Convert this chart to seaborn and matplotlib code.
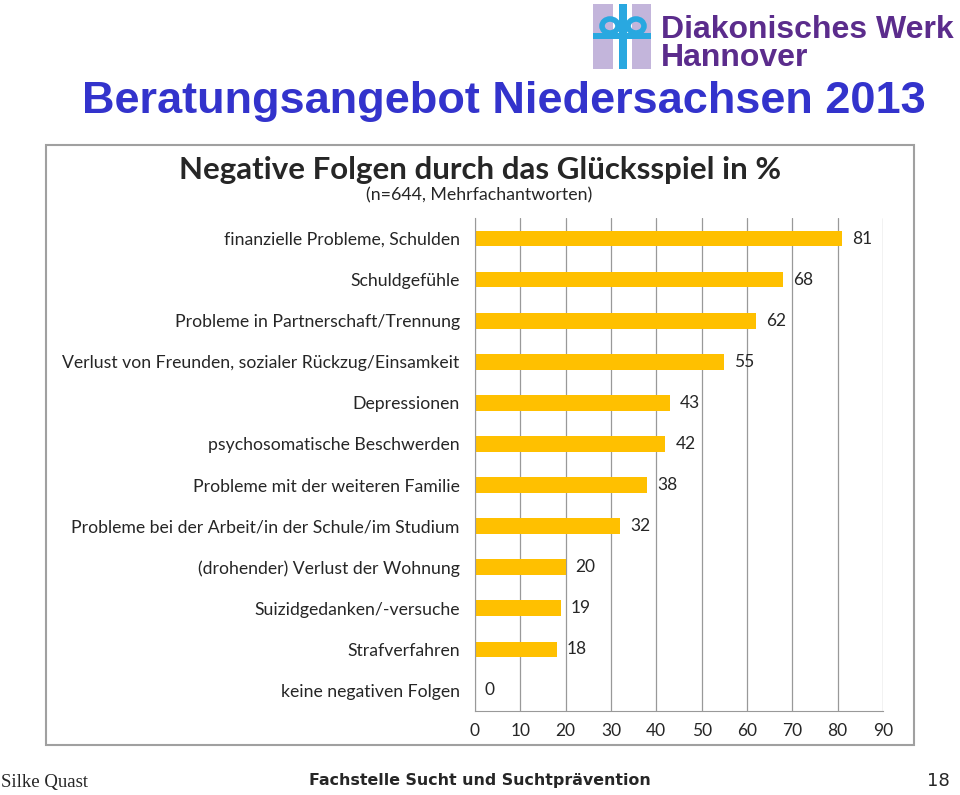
import matplotlib
matplotlib.use("Agg")
import matplotlib.pyplot as plt
import matplotlib.patches as mpatches
import seaborn as sns
import pandas as pd

# Daten
kategorien = [
    "finanzielle Probleme, Schulden",
    "Schuldgefühle",
    "Probleme in Partnerschaft/Trennung",
    "Verlust von Freunden, sozialer Rückzug/Einsamkeit",
    "Depressionen",
    "psychosomatische Beschwerden",
    "Probleme mit der weiteren Familie",
    "Probleme bei der Arbeit/in der Schule/im Studium",
    "(drohender) Verlust der Wohnung",
    "Suizidgedanken/-versuche",
    "Strafverfahren",
    "keine negativen Folgen",
]
prozent = [81, 68, 62, 55, 43, 42, 38, 32, 20, 19, 18, 0]
x_ticks = [0, 10, 20, 30, 40, 50, 60, 70, 80, 90]

df = pd.DataFrame({"Kategorie": kategorien, "Prozent": prozent})

sns.set_style("white")
plt.rcParams["font.family"] = ["Lato", "DejaVu Sans"]

W, H = 960, 795
fig = plt.figure(figsize=(9.6, 7.95), dpi=100)


def rect(x0, y0, x1, y1, **kw):
    # Rechteck in Pixelkoordinaten (y von oben)
    fig.patches.append(mpatches.Rectangle((x0 / W, 1 - y1 / H), (x1 - x0) / W, (y1 - y0) / H,
                                          transform=fig.transFigure, **kw))


# Rahmen um das Diagramm
rect(46, 145, 914, 745, fill=False, edgecolor="#a0a0a0", linewidth=1.5)

ax = fig.add_axes([475 / W, 1 - 711 / H, 408 / W, 493 / H])
sns.barplot(data=df, x="Prozent", y="Kategorie", color="#FFC000", width=0.38,
            saturation=1, ax=ax, edgecolor="none")

ax.set_xlim(0, 90)
ax.set_xticks(x_ticks)
ax.set_xticklabels([str(t) for t in x_ticks], fontsize=12.5)
ax.set_xlabel("")
ax.set_ylabel("")
ax.tick_params(axis="y", labelsize=12.7, length=0, pad=11)
ax.tick_params(axis="x", length=0, pad=9)
ax.grid(axis="x", color="#999999", linewidth=0.9)
ax.set_axisbelow(True)
for s in ["top", "right"]:
    ax.spines[s].set_visible(False)
ax.spines["left"].set_color("#999999")
ax.spines["bottom"].set_color("#999999")

for i, v in enumerate(prozent):
    ax.text(v + 2.2, i, str(v), va="center", ha="left", fontsize=12.5)

# Diagrammtitel
fig.text(480 / W, 1 - 170 / H, "Negative Folgen durch das Glücksspiel in %",
         ha="center", va="center", fontsize=22.5, fontweight="bold")
fig.text(479 / W, 1 - 195 / H, "(n=644, Mehrfachantworten)",
         ha="center", va="center", fontsize=12.8)

# Folientitel
fig.text(82 / W, 1 - 102 / H, "Beratungsangebot Niedersachsen 2013",
         ha="left", va="center", fontsize=32.5, fontweight="bold", color="#3333CC",
         family=["Liberation Sans", "DejaVu Sans"])

# Logo
rect(593, 4, 613, 69, color="#C3B5DB", lw=0)
rect(632, 4, 651, 69, color="#C3B5DB", lw=0)
rect(619, 4, 627, 69, color="#29A8E0", lw=0)
rect(593, 33, 651, 39, color="#29A8E0", lw=0)
for cx in (610, 636):
    fig.patches.append(mpatches.Ellipse((cx / W, 1 - 26 / H), 16 / W, 14 / H,
                                        transform=fig.transFigure, fill=False,
                                        edgecolor="#29A8E0", linewidth=4))
fig.text(661 / W, 1 - 30 / H, "Diakonisches Werk", ha="left", va="center",
         fontsize=23, fontweight="bold", color="#5B2C8C",
         family=["Liberation Sans", "DejaVu Sans"])
fig.text(661 / W, 1 - 58 / H, "Hannover", ha="left", va="center",
         fontsize=23, fontweight="bold", color="#5B2C8C",
         family=["Liberation Sans", "DejaVu Sans"])

# Fusszeile
fig.text(1 / W, 1 - 783 / H, "Silke Quast", ha="left", va="center", fontsize=13.5,
         family=["Liberation Serif", "DejaVu Serif"])
fig.text(480 / W, 1 - 781 / H, "Fachstelle Sucht und Suchtprävention", ha="center",
         va="center", fontsize=11.4, fontweight="bold",
         family=["DejaVu Sans"])
fig.text(950 / W, 1 - 781 / H, "18", ha="right", va="center", fontsize=13,
         family=["DejaVu Sans"])

fig.savefig("out.png", dpi=100)
